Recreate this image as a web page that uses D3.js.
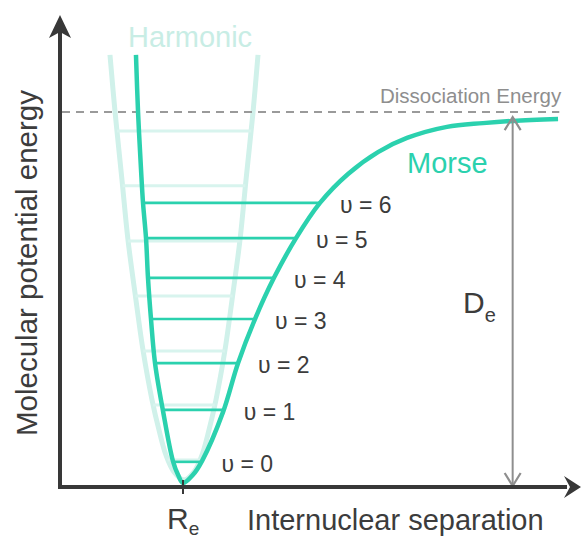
<!DOCTYPE html>
<html>
<head>
<meta charset="utf-8">
<script src="https://cdn.jsdelivr.net/npm/d3@7"></script>
<style>
  html, body { margin: 0; padding: 0; background: #fff; }
  svg { display: block; font-family: "Liberation Sans", Arial, sans-serif; }
</style>
</head>
<body>
<svg id="chart" width="582" height="539"></svg>
<script>
// Morse potential curve: internuclear separation (arb. units) vs energy (% of De)
const morseR = [0.714, 0.734, 0.763, 0.782, 0.811, 0.830, 0.859, 0.898, 0.975, 1.071, 1.120, 1.168,
                1.264, 1.351, 1.554, 1.699, 1.863, 2.046, 2.259, 2.490, 2.761, 3.050, 3.330, 3.716,
                4.064, 4.353, 4.788];
const morseE = [115.4, 100.0, 84.4, 75.5, 66.0, 55.3, 44.2, 32.3, 19.4, 5.9, 2.2, 0.0,
                2.2, 5.9, 19.1, 32.3, 44.2, 55.3, 66.0, 75.5, 83.3, 89.2, 93.0, 96.0,
                97.0, 97.6, 98.1];

// Harmonic approximation around the same minimum
const harmR = [0.463, 0.512, 0.579, 0.637, 0.714, 0.782, 0.869, 0.936, 1.004, 1.081, 1.178,
               1.274, 1.351, 1.419, 1.486, 1.573, 1.641, 1.718, 1.776, 1.844, 1.892];
const harmE = [115.4, 100.0, 81.7, 65.5, 49.3, 35.8, 22.4, 14.3, 7.5, 3.0, 0.8,
               3.0, 7.5, 14.3, 22.4, 35.8, 49.3, 65.5, 81.7, 100.0, 115.4];

// Vibrational energy levels
const morseLevels = [5.7, 19.7, 32.3, 44.2, 55.3, 66.0, 75.5];
const harmLevels = [6.2, 21.0, 35.6, 50.4, 65.2, 80.1, 94.9];
const levelLabels = ["υ = 0", "υ = 1", "υ = 2", "υ = 3", "υ = 4", "υ = 5", "υ = 6"];

const dissociationE = 100;
const deArrowTopE = 98.6;
const equilibriumR = 1.168;

const frame = { left: 60, right: 581, top: 15, bottom: 487 };

const xScale = d3.scaleLinear().domain([0, 5]).range([62, 580]);
const yScale = d3.scaleLinear().domain([0, 100]).range([483, 112]);

const TEAL = "#2bd1ae";
const TEAL_LIGHT = "#d0f1ea";
const AXIS = "#383838";
const GREY = "#8e8e8e";
const TEXT = "#3c3c3c";

const svg = d3.select("#chart");

const line = d3.line()
  .x(d => xScale(d[0]))
  .y(d => yScale(d[1]))
  .curve(d3.curveCatmullRom.alpha(0.5));

// x where a path crosses a horizontal pixel line: [leftmost, rightmost]
function crossings(node, yPix) {
  const L = node.getTotalLength();
  let prev = node.getPointAtLength(0);
  const xs = [];
  for (let s = 0.5; s <= L; s += 0.5) {
    const p = node.getPointAtLength(s);
    if ((prev.y - yPix) * (p.y - yPix) <= 0 && prev.y !== p.y) {
      const t = (yPix - prev.y) / (p.y - prev.y);
      xs.push(prev.x + t * (p.x - prev.x));
    }
    prev = p;
  }
  return [d3.min(xs), d3.max(xs)];
}

// Harmonic parabola and its levels (background)
const harmPath = svg.append("path")
  .datum(harmR.map((r, i) => [r, harmE[i]]))
  .attr("d", line)
  .attr("fill", "none")
  .attr("stroke", TEAL_LIGHT)
  .attr("stroke-width", 5);

svg.append("g").selectAll("line")
  .data(harmLevels)
  .join("line")
  .each(function (e) {
    const y = yScale(e);
    const [x0, x1] = crossings(harmPath.node(), y);
    d3.select(this).attr("x1", x0).attr("x2", x1).attr("y1", y).attr("y2", y);
  })
  .attr("stroke", "#d8f4ee")
  .attr("stroke-width", 3);

svg.append("text")
  .attr("x", 128).attr("y", 47)
  .attr("font-size", 29)
  .attr("fill", "#c8ede5")
  .text("Harmonic");

// Dissociation energy
svg.append("line")
  .attr("x1", frame.left + 2).attr("x2", xScale(4.8))
  .attr("y1", yScale(dissociationE)).attr("y2", yScale(dissociationE))
  .attr("stroke", "#9a9a9a")
  .attr("stroke-width", 2)
  .attr("stroke-dasharray", "8,6");

svg.append("text")
  .attr("x", 380).attr("y", 103)
  .attr("font-size", 20.5)
  .attr("fill", GREY)
  .text("Dissociation Energy");

// Morse curve and levels
const morsePath = svg.append("path")
  .datum(morseR.map((r, i) => [r, morseE[i]]))
  .attr("d", line)
  .attr("fill", "none")
  .attr("stroke", TEAL)
  .attr("stroke-width", 4.5)
  .attr("stroke-linejoin", "round");

const lv = svg.append("g").selectAll("g")
  .data(morseLevels)
  .join("g");

lv.each(function (e, i) {
  const y = yScale(e);
  const [x0, x1] = crossings(morsePath.node(), y);
  const g = d3.select(this);
  g.append("line")
    .attr("x1", x0).attr("x2", x1).attr("y1", y).attr("y2", y)
    .attr("stroke", TEAL)
    .attr("stroke-width", 2.6);
  g.append("text")
    .attr("x", x1 + 20).attr("y", y + 10)
    .attr("font-size", 23)
    .attr("fill", TEXT)
    .text(levelLabels[i]);
});

svg.append("text")
  .attr("x", 407).attr("y", 173)
  .attr("font-size", 29)
  .attr("fill", TEAL)
  .text("Morse");

// De double arrow
const deX = xScale(4.35);
const deTop = yScale(deArrowTopE);
const deBottom = frame.bottom - 1;
svg.append("line")
  .attr("x1", deX).attr("x2", deX).attr("y1", deTop + 2).attr("y2", deBottom - 2)
  .attr("stroke", GREY).attr("stroke-width", 2);
svg.append("path")
  .attr("d", `M${deX - 8},${deTop + 13}L${deX},${deTop}L${deX + 8},${deTop + 13}`)
  .attr("fill", "none").attr("stroke", GREY).attr("stroke-width", 2.2);
svg.append("path")
  .attr("d", `M${deX - 8},${deBottom - 13}L${deX},${deBottom}L${deX + 8},${deBottom - 13}`)
  .attr("fill", "none").attr("stroke", GREY).attr("stroke-width", 2.2);

const de = svg.append("text").attr("x", 463).attr("y", 313).attr("fill", TEXT);
de.append("tspan").attr("font-size", 30).text("D");
de.append("tspan").attr("font-size", 20).attr("dy", 9).text("e");

// Axes
svg.append("line")
  .attr("x1", frame.left).attr("x2", frame.left)
  .attr("y1", frame.bottom + 2).attr("y2", frame.top + 14)
  .attr("stroke", AXIS).attr("stroke-width", 4);
svg.append("path")
  .attr("d", `M${frame.left},${frame.top}L${frame.left - 11},${frame.top + 23}L${frame.left},${frame.top + 17}L${frame.left + 11},${frame.top + 23}Z`)
  .attr("fill", AXIS);

svg.append("line")
  .attr("x1", frame.left - 2).attr("x2", frame.right - 14)
  .attr("y1", frame.bottom).attr("y2", frame.bottom)
  .attr("stroke", AXIS).attr("stroke-width", 4);
svg.append("path")
  .attr("d", `M${frame.right},${frame.bottom}L${frame.right - 17},${frame.bottom - 11}L${frame.right - 11},${frame.bottom}L${frame.right - 17},${frame.bottom + 11}Z`)
  .attr("fill", AXIS);

// Equilibrium separation tick
svg.append("line")
  .attr("x1", xScale(equilibriumR)).attr("x2", xScale(equilibriumR))
  .attr("y1", frame.bottom - 7).attr("y2", frame.bottom + 7)
  .attr("stroke", AXIS).attr("stroke-width", 2);

const re = svg.append("text").attr("x", 167).attr("y", 529).attr("fill", TEXT);
re.append("tspan").attr("font-size", 30).text("R");
re.append("tspan").attr("font-size", 19).attr("dy", 6).text("e");

svg.append("text")
  .attr("x", 247).attr("y", 530)
  .attr("font-size", 29)
  .attr("fill", TEXT)
  .text("Internuclear separation");

svg.append("text")
  .attr("transform", "translate(37,263) rotate(-90)")
  .attr("text-anchor", "middle")
  .attr("font-size", 29.5)
  .attr("fill", TEXT)
  .text("Molecular potential energy");
</script>
</body>
</html>
